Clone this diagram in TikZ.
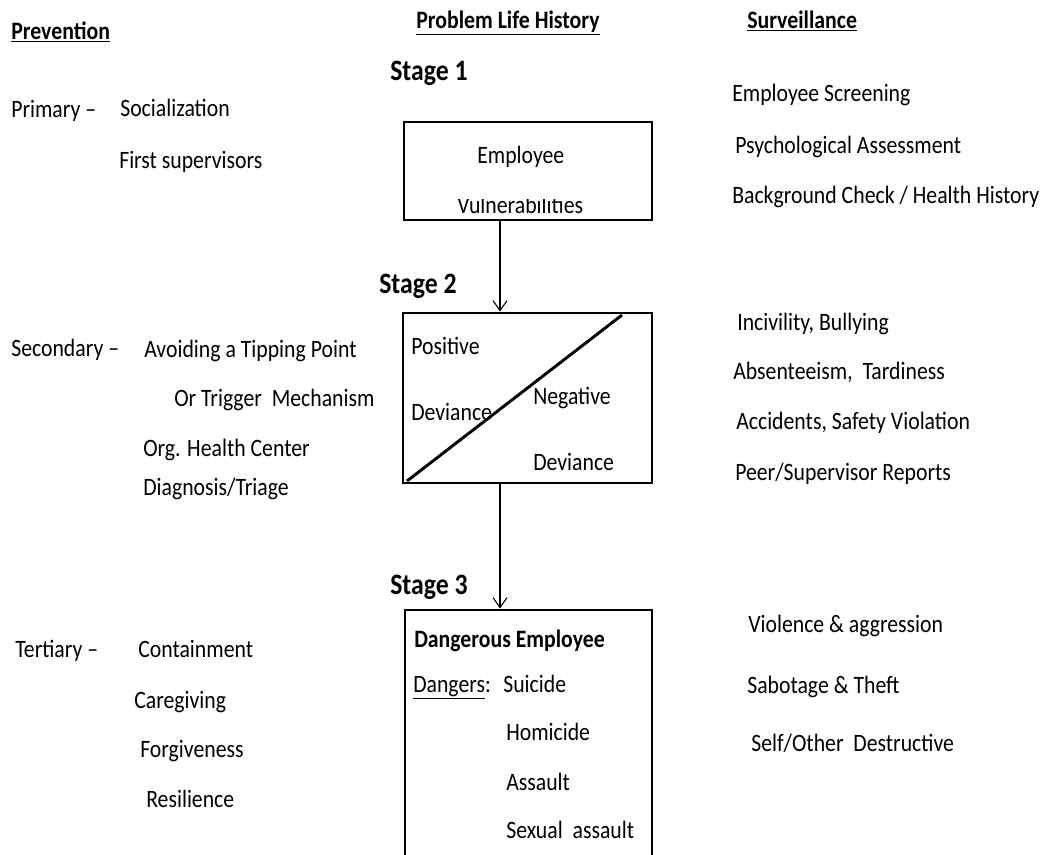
\documentclass[tikz,border=0pt]{standalone}
\usepackage{fontspec}
\setmainfont{Carlito}[FakeStretch=0.87]
\usetikzlibrary{arrows.meta}
\tikzset{
  txt/.style={anchor=base west, inner sep=0pt, font=\fontsize{18.75}{22}\selectfont},
  head/.style={anchor=base west, inner sep=0pt, font=\fontsize{18.8}{22}\selectfont\bfseries},
  stage/.style={anchor=base west, inner sep=0pt, font=\fontsize{22.2}{26}\selectfont\bfseries},
  boxn/.style={draw, line width=2.2pt, inner sep=0pt},
  flow/.style={line width=0.8pt, -{Straight Barb[length=7.5pt,width=10.5pt,line width=0.8pt]}}
}
\begin{document}
\begin{tikzpicture}[x=0.75pt,y=-0.75pt]
\clip (0,0) rectangle (1054,854);
% headers
\node[head] (hprev) at (11,39) {\underline{Prevention}};
\node[head] (hplh) at (416,28) {\underline{Problem Life History}};
\node[head] (hsurv) at (747,28) {\underline{Surveillance}};
% stages
\node[stage] (s1) at (390,80) {Stage 1};
\node[stage] (s2) at (379,293) {Stage 2};
\node[stage] (s3) at (390,594) {Stage 3};
% boxes
\node[boxn, minimum width=186pt, minimum height=73.5pt] (box1) at (528,171) {};
\node[boxn, minimum width=186.75pt, minimum height=127.5pt] (box2) at (527.5,398) {};
\node[boxn, minimum width=185.25pt, minimum height=195pt] (box3) at (528.5,740) {};
\coordinate (d1) at (407,481);
\coordinate (d2) at (622,315);
\draw[line width=2.2pt] (d1) -- (d2);
\coordinate (ax) at (500,0);
\draw[flow] (box1.south -| ax) -- (box2.north -| ax);
\draw[flow] (box2.south -| ax) -- (box3.north -| ax);
% box 1 text
\node[txt] (emp) at (477,163) {Employee};
\begin{scope}
\clip (404,199) rectangle (652,230);
\node[txt] (vul) at (457,213) {Vulnerabilities};
\end{scope}
% box 2 text
\node[txt] (pos) at (411,354) {Positive};
\node[txt] (dev1) at (411,420) {Deviance};
\node[txt] (neg) at (533,404) {Negative};
\node[txt] (dev2) at (533,470) {Deviance};
% box 3 text
\node[txt, font=\fontsize{18.75}{22}\selectfont\bfseries] (de) at (414,647) {Dangerous Employee};
\node[txt] (dang) at (413,692) {\underline{Dangers}:};
\node[txt] (sui) at (503,692) {Suicide};
\node[txt] (hom) at (506,740) {Homicide};
\node[txt] (ass) at (506,790) {Assault};
\node[txt] (sex) at (506,838) {Sexual\ \ assault};
% left column
\node[txt] (prim) at (11,117) {Primary –};
\node[txt] (soc) at (120,116) {Socialization};
\node[txt] (fs) at (119,168) {First supervisors};
\node[txt] (sec) at (11,356) {Secondary –};
\node[txt] (avo) at (144,357) {Avoiding a Tipping Point};
\node[txt] (trig) at (174,406) {Or Trigger\ \ Mechanism};
\node[txt] (org) at (143,456) {Org. Health Center};
\node[txt] (diag) at (143,495) {Diagnosis/Triage};
\node[txt] (ter) at (15,657) {Tertiary –};
\node[txt] (cont) at (138,657) {Containment};
\node[txt] (care) at (134,708) {Caregiving};
\node[txt] (forg) at (140,757) {Forgiveness};
\node[txt] (res) at (146,807) {Resilience};
% right column
\node[txt] (es) at (732,101) {Employee Screening};
\node[txt] (pa) at (735,153) {Psychological Assessment};
\node[txt] (bc) at (732,203) {Background Check / Health History};
\node[txt] (inc) at (737,330) {Incivility, Bullying};
\node[txt] (abs) at (733,379) {Absenteeism,\ \ Tardiness};
\node[txt] (acc) at (736,429) {Accidents, Safety Violation};
\node[txt] (peer) at (735,480) {Peer/Supervisor Reports};
\node[txt] (vio) at (748,632) {Violence \& aggression};
\node[txt] (sab) at (747,693) {Sabotage \& Theft};
\node[txt] (self) at (751,751) {Self/Other\ \ Destructive};
\end{tikzpicture}
\end{document}
